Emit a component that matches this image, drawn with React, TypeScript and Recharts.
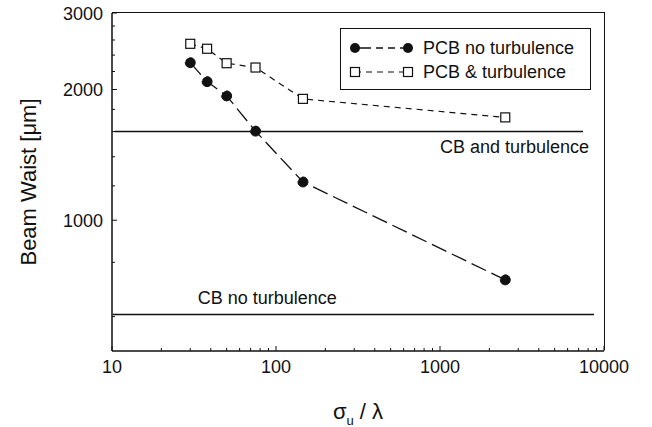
import React from "react";
import {
  Label,
  Legend,
  Line,
  LineChart,
  ReferenceLine,
  XAxis,
  YAxis,
} from "recharts";

// sigma_u / lambda values (shared by both PCB series)
const xValues = [30, 38, 50, 75, 146, 2500];
const pcbNoTurbulence = [2306, 2085, 1933, 1604, 1225, 729];
const pcbTurbulence = [2548, 2482, 2299, 2247, 1903, 1725];

// coherent beam reference levels and the span they are drawn over
const cbTurbulenceLevel = 1600;
const cbTurbulenceSpan = [10.4, 7450];
const cbNoTurbulenceLevel = 607;
const cbNoTurbulenceSpan = [10.1, 8690];

const xDomain = [10, 10000];
const yDomain = [500, 3000];
const xTicks = [
  10, 20, 30, 40, 50, 60, 70, 80, 90, 100, 200, 300, 400, 500, 600, 700, 800,
  900, 1000, 2000, 3000, 4000, 5000, 6000, 7000, 8000, 9000, 10000,
];
const xMajor = [10, 100, 1000, 10000];
const yTicks = [600, 800, 1000, 1200, 1400, 1600, 1800, 2000, 2200, 2400, 2600, 2800, 3000];
const yMajor = [1000, 2000, 3000];

const FONT = "'Liberation Sans', Arial, sans-serif";
const INK = "#111";

const W = 652;
const H = 427;
const MARGIN = { top: 13, right: 48, bottom: 46, left: 32 };
const Y_AXIS_W = 80;
const X_AXIS_H = 30;

const data = xValues.map((x, i) => ({
  x,
  noTurb: pcbNoTurbulence[i],
  turb: pcbTurbulence[i],
}));

const BottomTick = (p: any) => {
  const major = xMajor.includes(p.payload.value);
  return (
    <g>
      <line x1={p.x} x2={p.x} y1={p.y} y2={p.y - (major ? 5 : 3)} stroke={INK} strokeWidth={1} />
      {major && (
        <text x={p.x} y={p.y + 22} textAnchor="middle" fontSize={18} fontFamily={FONT} fill={INK}>
          {p.payload.value}
        </text>
      )}
    </g>
  );
};

const LeftTick = (p: any) => {
  const major = yMajor.includes(p.payload.value);
  return (
    <g>
      <line x1={p.x} x2={p.x + (major ? 5 : 3)} y1={p.y} y2={p.y} stroke={INK} strokeWidth={1} />
      {major && (
        <text x={p.x - 9} y={p.y + 6.5} textAnchor="end" fontSize={18} fontFamily={FONT} fill={INK}>
          {p.payload.value}
        </text>
      )}
    </g>
  );
};

const SquareDot = (p: any) => {
  if (p.cx == null || p.cy == null) return null;
  return (
    <rect
      key={`sq-${p.index}`}
      x={p.cx - 4.5}
      y={p.cy - 4.5}
      width={9}
      height={9}
      fill="#fff"
      stroke={INK}
      strokeWidth={1.2}
    />
  );
};

const LegendBox = () => (
  <div
    style={{
      width: 251,
      height: 62,
      border: `1.5px solid ${INK}`,
      boxSizing: "border-box",
      background: "#fff",
      paddingTop: 7,
      fontFamily: FONT,
      fontSize: 18,
      color: INK,
    }}
  >
    <div style={{ display: "flex", alignItems: "center", height: 24 }}>
      <svg width={74} height={24} style={{ marginLeft: 8 }}>
        <line x1={6} x2={59} y1={12} y2={12} stroke={INK} strokeWidth={1.3} strokeDasharray="16 5 7 5 7 5" />
        <circle cx={6} cy={12} r={5} fill={INK} />
        <circle cx={59} cy={12} r={5} fill={INK} />
      </svg>
      <span>PCB no turbulence</span>
    </div>
    <div style={{ display: "flex", alignItems: "center", height: 24 }}>
      <svg width={74} height={24} style={{ marginLeft: 8 }}>
        <line x1={6} x2={59} y1={12} y2={12} stroke={INK} strokeWidth={1.2} strokeDasharray="6 5" />
        <rect x={1.5} y={7.5} width={9} height={9} fill="#fff" stroke={INK} strokeWidth={1.2} />
        <rect x={54.5} y={7.5} width={9} height={9} fill="#fff" stroke={INK} strokeWidth={1.2} />
      </svg>
      <span>PCB &amp; turbulence</span>
    </div>
  </div>
);

// top / right edges of the plot frame, derived from the chart margins
const plotLeft = MARGIN.left + Y_AXIS_W;
const plotWidth = W - plotLeft - MARGIN.right;
const plotHeight = H - MARGIN.top - MARGIN.bottom - X_AXIS_H;

export default function App() {
  return (
    <div style={{ position: "absolute", left: 0, top: 0, width: W, height: H, background: "#fff" }}>
      <LineChart width={W} height={H} data={data} margin={MARGIN}>
        <XAxis
          dataKey="x"
          type="number"
          scale="log"
          domain={xDomain}
          allowDataOverflow
          ticks={xTicks}
          interval={0}
          tickSize={0}
          tickMargin={0}
          tick={BottomTick}
          height={X_AXIS_H}
          axisLine={{ stroke: INK, strokeWidth: 1.5 }}
        >
          <Label
            content={(p: any) => {
              const vb = p.viewBox;
              const cx = vb.x + vb.width / 2;
              return (
                <text x={cx} y={vb.y + 68} textAnchor="middle" fontSize={22} fontFamily={FONT} fill={INK}>
                  σ<tspan fontSize={13} dy={6}>u</tspan>
                  <tspan dy={-6}> / λ</tspan>
                </text>
              );
            }}
          />
        </XAxis>
        <YAxis
          type="number"
          scale="log"
          domain={yDomain}
          allowDataOverflow
          ticks={yTicks}
          interval={0}
          tickSize={0}
          tickMargin={0}
          tick={LeftTick}
          width={Y_AXIS_W}
          axisLine={{ stroke: INK, strokeWidth: 1.5 }}
        >
          <Label
            content={(p: any) => {
              const vb = p.viewBox;
              const x = vb.x - 4;
              const y = vb.y + vb.height / 2;
              return (
                <text
                  x={x}
                  y={y}
                  transform={`rotate(-90 ${x} ${y})`}
                  textAnchor="middle"
                  dominantBaseline="central"
                  fontSize={22}
                  fontFamily={FONT}
                  fill={INK}
                >
                  Beam Waist [μm]
                </text>
              );
            }}
          />
        </YAxis>
        <ReferenceLine
          segment={[
            { x: cbTurbulenceSpan[0], y: cbTurbulenceLevel },
            { x: cbTurbulenceSpan[1], y: cbTurbulenceLevel },
          ]}
          stroke={INK}
          strokeWidth={1.5}
          label={(p: any) => (
            <text
              x={p.viewBox.x + p.viewBox.width + 6}
              y={p.viewBox.y + 21}
              textAnchor="end"
              fontSize={18}
              fontFamily={FONT}
              fill={INK}
            >
              CB and turbulence
            </text>
          )}
        />
        <ReferenceLine
          segment={[
            { x: cbNoTurbulenceSpan[0], y: cbNoTurbulenceLevel },
            { x: cbNoTurbulenceSpan[1], y: cbNoTurbulenceLevel },
          ]}
          stroke={INK}
          strokeWidth={1.5}
          label={(p: any) => (
            <text
              x={p.viewBox.x + 85}
              y={p.viewBox.y - 10}
              textAnchor="start"
              fontSize={18}
              fontFamily={FONT}
              fill={INK}
            >
              CB no turbulence
            </text>
          )}
        />
        <Line
          type="linear"
          dataKey="turb"
          stroke={INK}
          strokeWidth={1.2}
          strokeDasharray="6 5"
          dot={SquareDot}
          activeDot={false}
          isAnimationActive={false}
        />
        <Line
          type="linear"
          dataKey="noTurb"
          stroke={INK}
          strokeWidth={1.3}
          strokeDasharray="16 6"
          dot={{ r: 5, fill: INK, stroke: INK, strokeWidth: 1 }}
          activeDot={false}
          isAnimationActive={false}
        />
        <Legend
          content={LegendBox}
          layout="horizontal"
          verticalAlign="middle"
          align="center"
          wrapperStyle={{ left: 340, top: 28, width: 251, height: 62 }}
        />
      </LineChart>
      <div
        style={{
          position: "absolute",
          left: plotLeft,
          top: MARGIN.top - 0.75,
          width: plotWidth + 0.75,
          height: plotHeight,
          borderTop: `1.5px solid ${INK}`,
          borderRight: `1.5px solid ${INK}`,
          boxSizing: "border-box",
          pointerEvents: "none",
        }}
      />
    </div>
  );
}
